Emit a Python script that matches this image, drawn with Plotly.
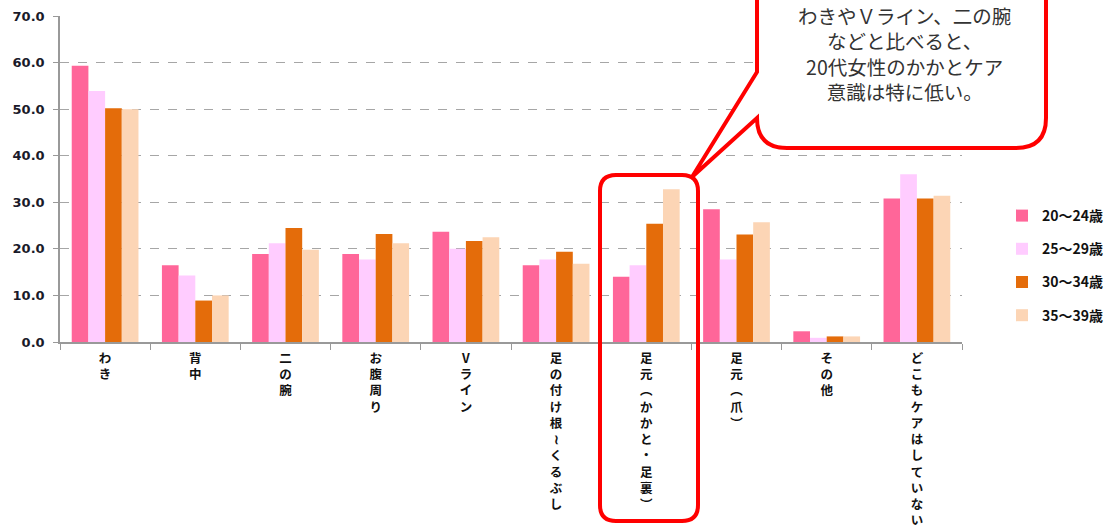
import plotly.graph_objects as go

# 部位別のムダ毛ケア率（年代別, %）
categories = ["わき", "背中", "二の腕", "お腹周り", "Vライン", "足の付け根～くるぶし",
              "足元（かかと・足裏）", "足元（爪）", "その他", "どこもケアはしていない"]
series_names = ["20～24歳", "25～29歳", "30～34歳", "35～39歳"]
age_20_24 = [59.3, 16.5, 18.9, 18.9, 23.7, 16.5, 14.0, 28.5, 2.3, 30.8]
age_25_29 = [53.9, 14.3, 21.2, 17.7, 20.0, 17.7, 16.5, 17.7, 0.9, 36.0]
age_30_34 = [50.2, 8.9, 24.5, 23.2, 21.7, 19.4, 25.4, 23.1, 1.2, 30.8]
age_35_39 = [50.0, 10.0, 19.8, 21.2, 22.5, 16.8, 32.8, 25.7, 1.2, 31.4]
y_ticks = [0, 10, 20, 30, 40, 50, 60, 70]

colors = ["#FF6699", "#FFCCFF", "#E46C0A", "#FCD5B5"]

# plot area in pixels (figure is 1111 x 526)
W, H = 1111, 526
L, R, T, B = 60, 962, 16, 342


def px(x):
    return (x - L) / (R - L)


def py(y):
    return (B - y) / (B - T)


def vertical(label):
    # stack characters top-to-bottom, using vertical forms for brackets/wave dash
    swap = {"（": "︵", "）": "︶", "～": "≀"}
    return "<br>".join(swap.get(c, c) for c in label)


fig = go.Figure()
for name, vals, col in zip(series_names, [age_20_24, age_25_29, age_30_34, age_35_39], colors):
    fig.add_trace(go.Bar(
        x=categories, y=vals, name=name, legendgroup=name,
        marker=dict(color=col, line=dict(width=0)),
    ))

# highlight frame around the heel category
hx0, hx1, hy0, hy1, r = 600, 698, 175, 521, 16
frame = (f"M {px(hx0)},{py(hy0 + r)} Q {px(hx0)},{py(hy0)} {px(hx0 + r)},{py(hy0)} "
         f"L {px(hx1 - r)},{py(hy0)} Q {px(hx1)},{py(hy0)} {px(hx1)},{py(hy0 + r)} "
         f"L {px(hx1)},{py(hy1 - r)} Q {px(hx1)},{py(hy1)} {px(hx1 - r)},{py(hy1)} "
         f"L {px(hx0 + r)},{py(hy1)} Q {px(hx0)},{py(hy1)} {px(hx0)},{py(hy1 - r)} Z")

# speech bubble with tail pointing at the frame
bx0, bx1, by0, by1, br = 757, 1046, -30, 148, 30
bubble = (f"M {px(bx0)},{py(by0)} L {px(bx0)},{py(72)} L {px(692)},{py(177)} "
          f"L {px(bx0)},{py(118)} Q {px(bx0)},{py(by1)} {px(bx0 + br)},{py(by1)} "
          f"L {px(bx1 - br)},{py(by1)} Q {px(bx1)},{py(by1)} {px(bx1)},{py(by1 - br)} "
          f"L {px(bx1)},{py(by0)} Z")

fig.update_layout(
    shapes=[
        dict(type="path", path=frame, xref="paper", yref="paper",
             line=dict(color="#FF0000", width=4), fillcolor="rgba(0,0,0,0)", layer="above"),
        dict(type="path", path=bubble, xref="paper", yref="paper",
             line=dict(color="#FF0000", width=4), fillcolor="white", layer="above"),
    ],
    annotations=[
        dict(text="わきやＶライン、二の腕<br>などと比べると、<br>20代女性のかかとケア<br>意識は特に低い。",
             x=px(904), y=py(53), xref="paper", yref="paper", showarrow=False,
             xanchor="center", yanchor="middle", align="center",
             font=dict(family="Noto Sans CJK JP", size=19.5, color="#333333")),
    ],
)

fig.update_layout(
    width=W, height=H,
    template="none",
    paper_bgcolor="white", plot_bgcolor="white",
    margin=dict(l=L, r=W - R, t=T, b=H - B, pad=0),
    barmode="group", bargap=0.26, bargroupgap=0,
    font=dict(family="Noto Sans CJK JP", color="#1a1a2a"),
    legend=dict(xref="container", yref="container",
                x=1002 / W, y=1 - 200 / H, xanchor="left", yanchor="top",
                tracegroupgap=12, bgcolor="rgba(0,0,0,0)", itemwidth=30,
                font=dict(family="Noto Sans CJK JP", size=14, weight="bold", color="#111111")),
    xaxis=dict(
        type="category", tickmode="array", tickvals=categories,
        ticktext=[vertical(c) for c in categories],
        tickson="boundaries", ticks="outside", ticklen=6, tickcolor="#999999",
        showline=True, linecolor="#999999", linewidth=1.5, showgrid=False,
        tickangle=0, automargin=False, ticklabelstandoff=4,
        tickfont=dict(family="Noto Sans CJK JP", size=12.5, weight="bold", color="#111111"),
    ),
    yaxis=dict(
        range=[0, 70], tickvals=y_ticks, ticktext=[f"{v:.1f}" for v in y_ticks],
        ticks="outside", ticklen=5, tickcolor="#999999", ticklabelstandoff=6,
        showline=True, linecolor="#999999", linewidth=1.5,
        showgrid=True, gridcolor="#A6A6A6", griddash="dash", gridwidth=1,
        zeroline=False, automargin=False,
        tickfont=dict(family="DejaVu Sans", size=13, weight="bold", color="#1a1a2a"),
    ),
)

fig.write_html("out.html")
